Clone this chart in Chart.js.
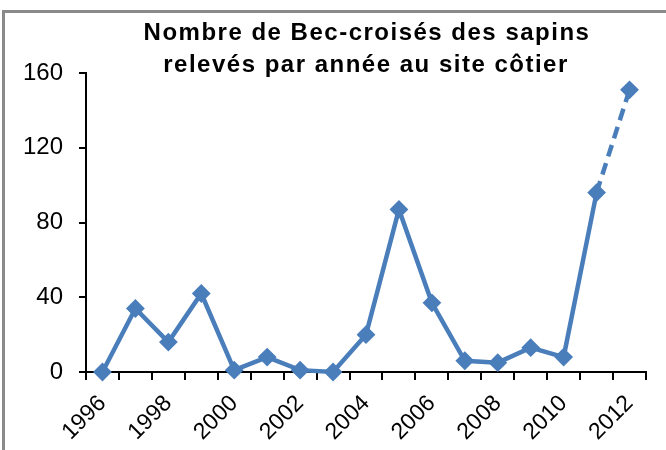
<!DOCTYPE html>
<html lang="fr">
<head>
<meta charset="utf-8">
<title>Bec-croisés des sapins</title>
<script src="https://cdn.jsdelivr.net/npm/chart.js@4.4.1/dist/chart.umd.min.js"></script>
<style>
  html, body { margin: 0; padding: 0; background: #fff; }
  #wrap { position: relative; width: 666px; height: 450px; }
</style>
</head>
<body>
<div id="wrap"><canvas id="chart" width="666" height="450"></canvas></div>
<script>
// ── données ────────────────────────────────────────────
const years = ['1996', '1997', '1998', '1999', '2000', '2001', '2002', '2003', '2004',
               '2005', '2006', '2007', '2008', '2009', '2010', '2011', '2012'];
const counts = [0, 34, 16, 42, 1, 8, 1, 0, 20, 87, 37, 6, 5, 13, 8, 96, 151];
const yTicks = [0, 40, 80, 120, 160];
const titleLines = ['Nombre de Bec-croisés des sapins', 'relevés par année au site côtier'];

const BLUE = '#4A7EBB';
const FONT = '"Liberation Sans", Arial, sans-serif';

// titre + cadre gris (dessinés à la main : le titre chevauche la zone du graphique)
const decor = {
  id: 'decor',
  beforeDraw(chart) {
    const c = chart.ctx;
    c.save();
    c.fillStyle = '#8a8a8a';
    c.fillRect(2, 10, 3, 440);
    c.fillRect(2, 10, 664, 3);
    c.restore();
  },
  afterDraw(chart) {
    const c = chart.ctx;
    c.save();
    c.fillStyle = '#000';
    c.font = 'bold 24px ' + FONT;
    c.letterSpacing = '1.5px';
    c.textAlign = 'center';
    c.textBaseline = 'alphabetic';
    c.fillText(titleLines[0], 367, 40);
    c.fillText(titleLines[1], 366, 72);
    c.restore();
  }
};

new Chart(document.getElementById('chart'), {
  type: 'line',
  data: {
    labels: years,
    datasets: [{
      data: counts,
      borderColor: BLUE,
      backgroundColor: BLUE,
      borderWidth: 4.5,
      tension: 0,
      pointStyle: 'rectRot',
      pointRadius: 8,
      pointBorderWidth: 2,
      pointBackgroundColor: BLUE,
      pointBorderColor: BLUE,
      pointHoverRadius: 8,
      clip: false,
      // dernier segment (2011 → 2012) en pointillé
      segment: {
        borderDash: ctx => ctx.p1DataIndex === counts.length - 1 ? [12, 7] : undefined
      }
    }]
  },
  options: {
    responsive: false,
    animation: false,
    layout: { padding: { top: 73, right: 20, left: 0, bottom: 0 } },
    plugins: {
      legend: { display: false },
      title: { display: false },
      tooltip: { enabled: false }
    },
    scales: {
      x: {
        offset: true,
        afterFit: s => { s.height = 78; },
        grid: { offset: true, drawOnChartArea: false, tickLength: 8, color: '#000', lineWidth: 2 },
        border: { color: '#000', width: 2 },
        ticks: {
          autoSkip: false,
          minRotation: 45,
          maxRotation: 45,
          padding: 10,
          color: '#000',
          font: { family: FONT, size: 23 },
          callback: (v, i) => (i % 2 === 0 ? years[i] : '')
        }
      },
      y: {
        min: 0,
        max: 160,
        afterFit: s => { s.width = 86; },
        afterBuildTicks: s => { s.ticks = yTicks.map(v => ({ value: v })); },
        grid: { drawOnChartArea: false, tickLength: 7, color: '#000', lineWidth: 2 },
        border: { color: '#000', width: 2 },
        ticks: {
          padding: 16,
          color: '#000',
          font: { family: FONT, size: 24 }
        }
      }
    }
  },
  plugins: [decor]
});
</script>
</body>
</html>
